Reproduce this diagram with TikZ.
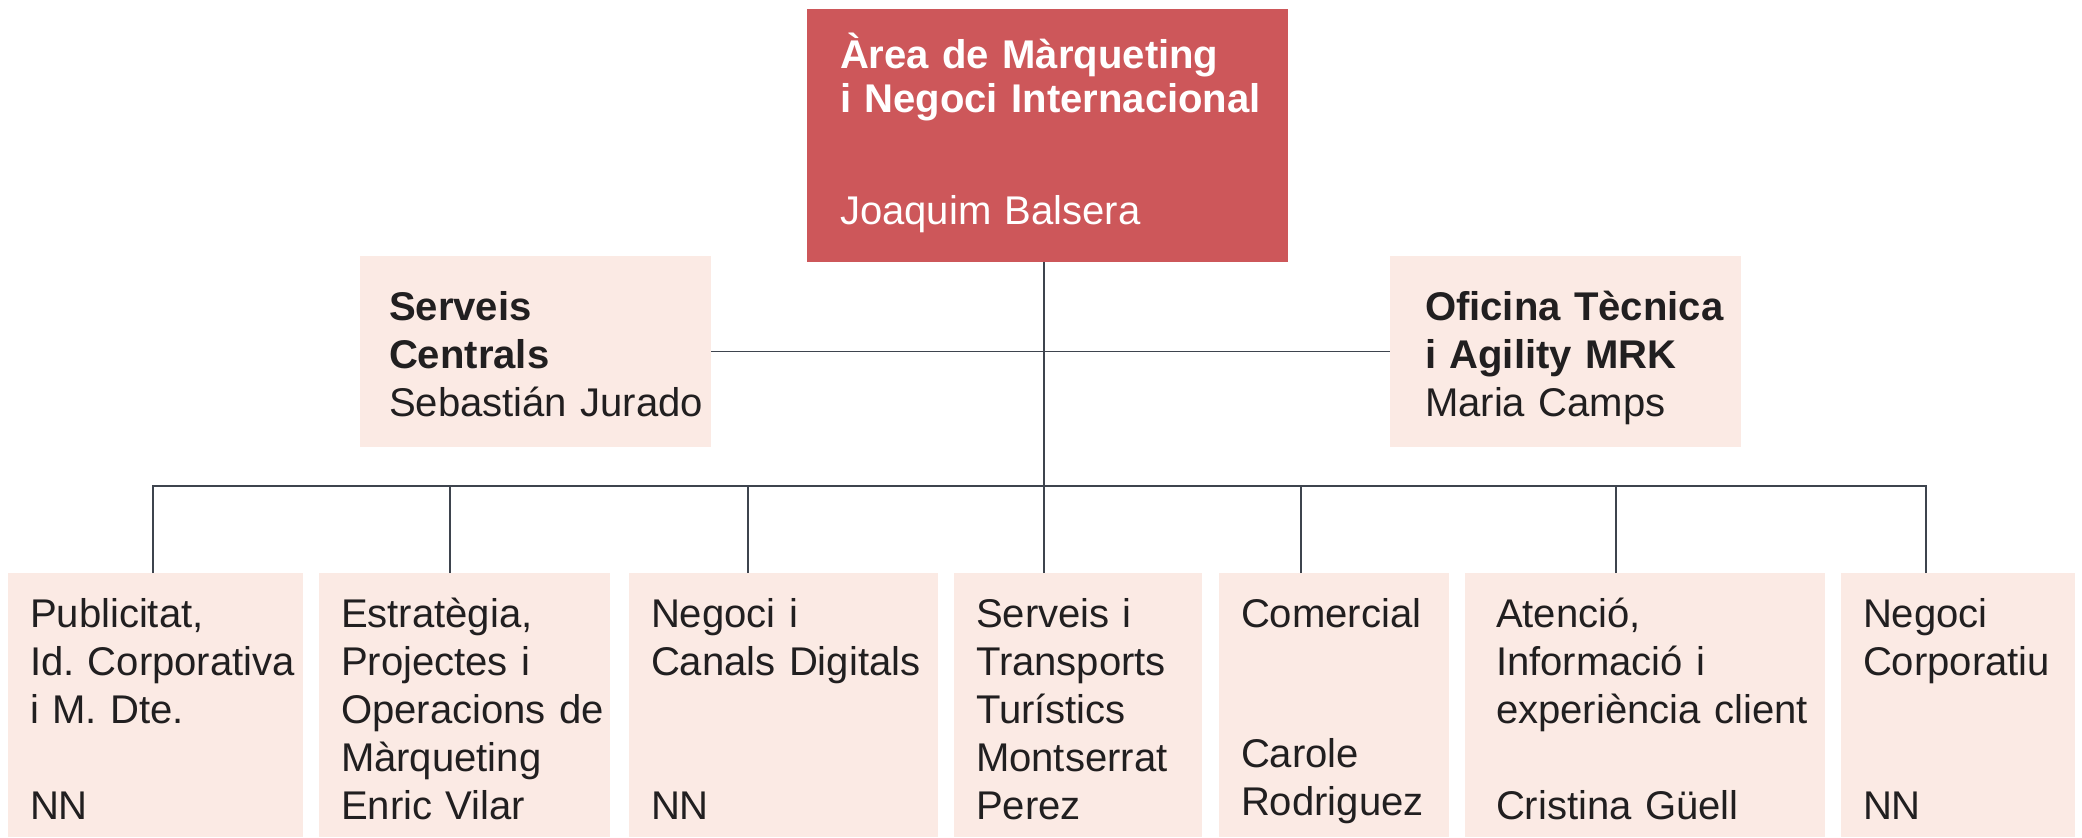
\documentclass[tikz,border=0pt]{standalone}
\usepackage{fontspec}
\setmainfont{Liberation Sans}
\frenchspacing
\usetikzlibrary{positioning,calc}

\definecolor{headred}{RGB}{205,87,90}
\definecolor{unitpink}{RGB}{251,234,228}
\definecolor{linkgray}{RGB}{62,68,78}
\definecolor{inkblack}{RGB}{33,31,32}

\begin{document}
\begin{tikzpicture}[
  box/.style={rectangle, inner sep=0pt, outer sep=0pt, align=left, text width=#1,
    font=\fontsize{11.4}{13.66}\selectfont},
  head/.style={box=4.81cm, fill=headred, text=white,
    text height=0.59cm, text depth=1.94cm,
    font=\fontsize{11.4}{12.52}\selectfont\bfseries,
    execute at begin node={\leftskip=0.33cm}},
  staff/.style={box=3.51cm, fill=unitpink, text=inkblack,
    text height=0.64cm, text depth=1.27cm,
    execute at begin node={\leftskip=#1}},
  unit/.style={box=#1, fill=unitpink, text=inkblack,
    text height=0.54cm, text depth=2.10cm,
    execute at begin node={\leftskip=0.22cm}},
  link/.style={draw=linkgray, line width=0.4pt}
 ]
 \useasboundingbox (0,0) rectangle (20.82,-8.37);

 % direction
 \node [head, anchor=north west] (mkt) at (8.07,-0.09)
  {Àrea de Màrqueting\\ i Negoci Internacional\\[0.68cm] \mdseries Joaquim Balsera};

 % staff units
 \node [staff=0.29cm, anchor=north west] (central) at (3.60,-2.56)
  {\textbf{Serveis}\\ \textbf{Centrals}\\ Sebastián Jurado};
 \node [staff=0.35cm, anchor=north west] (office) at (13.90,-2.56)
  {\textbf{Oficina Tècnica}\\ \textbf{i Agility MRK}\\ Maria Camps};

 % line units
 \node [unit=2.95cm, anchor=north west] (pub) at (0.08,-5.73)
  {Publicitat,\\ Id. Corporativa\\ i M. Dte.\\[0.48cm] NN};
 \node [unit=2.91cm, right=0.16cm of pub] (strat)
  {Estratègia,\\ Projectes i\\ Operacions de\\ Màrqueting\\ Enric Vilar};
 \node [unit=3.09cm, right=0.19cm of strat] (digital)
  {Negoci i\\ Canals Digitals\\[0.96cm] NN};
 \node [unit=2.48cm, right=0.16cm of digital] (tourism)
  {Serveis i\\ Transports\\ Turístics\\ Montserrat\\ Perez};
 \node [unit=2.30cm, right=0.17cm of tourism] (sales)
  {Comercial\\[0.92cm] Carole\\ Rodriguez};
 \node [unit=3.60cm, right=0.16cm of sales, execute at begin node={\leftskip=0.31cm}] (care)
  {Atenció,\\ Informació i\\ experiència client\\[0.48cm] Cristina Güell};
 \node [unit=2.34cm, right=0.16cm of care] (corporate)
  {Negoci\\ Corporatiu\\[0.96cm] NN};

 \coordinate (hub) at (10.44,-4.86);

 % connectors
 \draw [link] (central.east) -- (office.west);
 \draw [link] (mkt.south -| hub) -- (hub) -- (hub |- tourism.north);
 \foreach \dept/\dx in {pub/1.45, strat/1.31, digital/1.19, sales/0.82, care/1.51, corporate/0.85}
  \draw [link] ($(\dept.north west)+(\dx,0)$) |- (hub);
\end{tikzpicture}
\end{document}
